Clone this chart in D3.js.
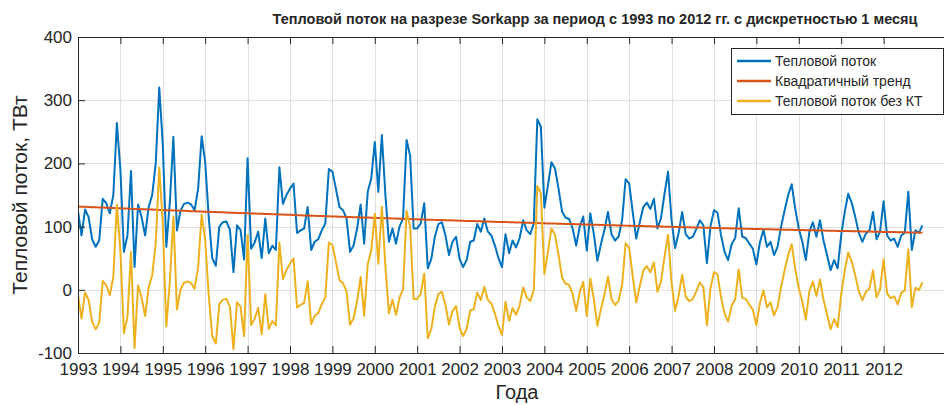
<!DOCTYPE html>
<html>
<head>
<meta charset="utf-8">
<script src="https://cdn.jsdelivr.net/npm/d3@7"></script>
<style>
  body { margin: 0; background: #fff; }
  svg { display: block; }
  text { font-family: "Liberation Sans", Arial, Helvetica, sans-serif; fill: #262626; }
</style>
</head>
<body>
<svg id="chart" width="944" height="405"></svg>
<script>
// Monthly heat flux through the Sorkapp section, Jan 1993 – Dec 2012 (TW)
const startYear = 1993;
const heatFlux = [
  124, 86, 127, 115, 80, 68, 78, 144, 137, 121, 150, 264,
  190, 60, 86, 188, 36, 135, 115, 86, 131, 150, 200, 320,
  230, 68, 139, 242, 94, 125, 136, 138, 135, 126, 160, 243,
  202, 115, 50, 38, 100, 107, 108, 95, 28, 102, 95, 48,
  208, 65, 75, 92, 50, 113, 58, 70, 63, 194, 136, 150,
  160, 168, 90, 94, 97, 131, 63, 76, 80, 94, 105, 191,
  187, 160, 131, 126, 113, 60, 70, 97, 135, 73, 155, 176,
  234, 155, 245, 150, 76, 97, 73, 100, 113, 237, 212, 97,
  97, 105, 137, 34, 49, 84, 104, 107, 86, 55, 76, 84,
  49, 36, 47, 76, 78, 104, 92, 113, 92, 86, 70, 50,
  36, 88, 58, 78, 67, 82, 110, 94, 88, 105, 270, 258,
  130, 165, 202, 192, 160, 124, 114, 112, 97, 70, 100, 116,
  62, 121, 88, 46, 72, 95, 123, 88, 78, 84, 110, 175,
  168, 123, 81, 107, 131, 138, 128, 144, 97, 113, 152, 187,
  110, 66, 90, 123, 88, 81, 84, 96, 110, 102, 42, 100,
  126, 122, 86, 60, 47, 72, 82, 129, 84, 82, 73, 65,
  40, 75, 95, 68, 76, 55, 68, 100, 126, 150, 167, 128,
  97, 76, 47, 92, 107, 84, 110, 78, 55, 31, 47, 34,
  86, 123, 152, 137, 115, 90, 76, 89, 94, 123, 80, 92,
  140, 86, 78, 81, 68, 86, 90, 155, 63, 94, 90, 102
];
const yearTicks = d3.range(1993, 2013);
const valueTicks = [-100, 0, 100, 200, 300, 400];
const seriesNames = ["Тепловой поток", "Квадратичный тренд", "Тепловой поток без КТ"];
const seriesColors = ["#0072BD", "#D95319", "#EDB120"];
const titleText = "Тепловой поток на разрезе Sorkapp за период с 1993 по 2012 гг. с дискретностью 1 месяц";
const xLabel = "Года";
const yLabel = "Тепловой поток, ТВт";

// Least-squares quadratic fit of the monthly series (the "quadratic trend")
function quadFit(ys) {
  const n = ys.length, c = (n - 1) / 2;
  let S = [0, 0, 0, 0, 0], T = [0, 0, 0];
  ys.forEach((y, i) => {
    const t = (i - c) / c;
    let p = 1;
    for (let k = 0; k < 5; k++) { S[k] += p; if (k < 3) T[k] += y * p; p *= t; }
  });
  const A = [[S[0], S[1], S[2], T[0]], [S[1], S[2], S[3], T[1]], [S[2], S[3], S[4], T[2]]];
  for (let i = 0; i < 3; i++) {
    for (let j = i + 1; j < 3; j++) {
      const f = A[j][i] / A[i][i];
      for (let k = i; k < 4; k++) A[j][k] -= f * A[i][k];
    }
  }
  const b = [0, 0, 0];
  for (let i = 2; i >= 0; i--) {
    let s = A[i][3];
    for (let k = i + 1; k < 3; k++) s -= A[i][k] * b[k];
    b[i] = s / A[i][i];
  }
  return ys.map((_, i) => { const t = (i - c) / c; return b[0] + b[1] * t + b[2] * t * t; });
}

const trend = quadFit(heatFlux);
const detrended = heatFlux.map((v, i) => v - trend[i]);
const months = heatFlux.map((_, i) => startYear + i / 12);

const svg = d3.select("#chart");
const plot = { left: 78, right: 956, top: 37, bottom: 353 };

const x = d3.scaleLinear().domain([startYear, startYear + 248.5 / 12]).range([plot.left, plot.right]);
const y = d3.scaleLinear().domain([-100, 400]).range([plot.bottom, plot.top]);

// grid
const grid = svg.append("g").attr("stroke", "#dfdfdf").attr("stroke-width", 1);
yearTicks.forEach(yr => {
  grid.append("line").attr("x1", Math.round(x(yr)) + 0.5).attr("x2", Math.round(x(yr)) + 0.5)
    .attr("y1", plot.top).attr("y2", plot.bottom);
});
valueTicks.forEach(v => {
  grid.append("line").attr("x1", plot.left).attr("x2", plot.right)
    .attr("y1", Math.round(y(v)) + 0.5).attr("y2", Math.round(y(v)) + 0.5);
});

// series
const clipId = "plotClip";
svg.append("clipPath").attr("id", clipId).append("rect")
  .attr("x", plot.left).attr("y", plot.top)
  .attr("width", plot.right - plot.left).attr("height", plot.bottom - plot.top);

const line = d3.line().x(d => x(d[0])).y(d => y(d[1]));
const seriesData = [heatFlux, trend, detrended];
const g = svg.append("g").attr("clip-path", `url(#${clipId})`);
[0, 1, 2].forEach(k => {
  g.append("path")
    .datum(months.map((m, i) => [m, seriesData[k][i]]))
    .attr("fill", "none")
    .attr("stroke", seriesColors[k])
    .attr("stroke-width", 2)
    .attr("stroke-linejoin", "round")
    .attr("d", line);
});

// axes (inward ticks, box)
const axisColor = "#262626";
const xAxisB = d3.axisBottom(x).tickValues(yearTicks).tickFormat(d => String(d)).tickSizeInner(-7).tickSizeOuter(0).tickPadding(10);
const xAxisT = d3.axisTop(x).tickValues(yearTicks).tickFormat("").tickSizeInner(-7).tickSizeOuter(0);
const yAxisL = d3.axisLeft(y).tickValues(valueTicks).tickFormat(d => String(d)).tickSizeInner(-7).tickSizeOuter(0).tickPadding(6);

const gxb = svg.append("g").attr("transform", `translate(0,${plot.bottom})`).call(xAxisB);
const gxt = svg.append("g").attr("transform", `translate(0,${plot.top})`).call(xAxisT);
const gyl = svg.append("g").attr("transform", `translate(${plot.left},0)`).call(yAxisL);
[gxb, gxt, gyl].forEach(a => {
  a.selectAll("path").attr("stroke", axisColor).attr("stroke-width", 1);
  a.selectAll("line").attr("stroke", axisColor);
  a.selectAll("text").attr("font-size", 17).attr("fill", axisColor)
    .style("font-family", "'Liberation Sans', Arial, sans-serif");
});
svg.append("line").attr("x1", plot.right).attr("x2", plot.right).attr("y1", plot.top).attr("y2", plot.bottom)
  .attr("stroke", axisColor);

// titles
svg.append("text").attr("x", 595).attr("y", 24)
  .attr("text-anchor", "middle").attr("font-weight", "bold").attr("font-size", 14.5)
  .text(titleText);
svg.append("text").attr("x", (plot.left + plot.right) / 2).attr("y", 399)
  .attr("text-anchor", "middle").attr("font-size", 20).text(xLabel);
svg.append("text").attr("transform", `translate(27,${(plot.top + plot.bottom) / 2}) rotate(-90)`)
  .attr("text-anchor", "middle").attr("font-size", 21).text(yLabel);

// legend
const lg = svg.append("g");
lg.append("rect").attr("x", 731.5).attr("y", 48.5).attr("width", 212).attr("height", 66)
  .attr("fill", "#fff").attr("stroke", axisColor).attr("stroke-width", 1);
seriesNames.forEach((name, k) => {
  const yy = 61 + k * 20;
  lg.append("line").attr("x1", 737).attr("x2", 771).attr("y1", yy).attr("y2", yy)
    .attr("stroke", seriesColors[k]).attr("stroke-width", 2.5);
  lg.append("text").attr("x", 775).attr("y", yy + 5).attr("font-size", 14).text(name);
});
</script>
</body>
</html>
